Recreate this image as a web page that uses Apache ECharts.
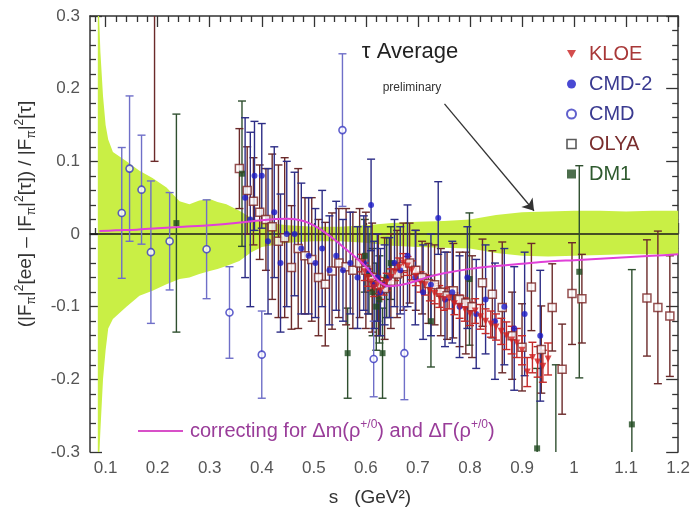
<!DOCTYPE html>
<html>
<head>
<meta charset="utf-8">
<script src="https://cdn.jsdelivr.net/npm/echarts@6/dist/echarts.min.js"></script>
<style>
  html, body { margin: 0; padding: 0; background: #fff; }
  #chart { width: 693px; height: 521px; }
</style>
</head>
<body>
<div id="chart"></div>
<script>
// ---- axis setup ----
const xMin = 0.07, xMax = 1.2;
const yMin = -0.3, yMax = 0.3;
const xTickLabels = [0.1, 0.2, 0.3, 0.4, 0.5, 0.6, 0.7, 0.8, 0.9, 1, 1.1, 1.2];
const yTickLabels = [-0.3, -0.2, -0.1, 0, 0.1, 0.2, 0.3];

// ---- KLOE (value, error) ----
const kloeS = [0.592,0.598,0.604,0.610,0.616,0.622,0.628,0.634,0.640,0.648,0.656,0.664,0.672,0.680,0.688,0.696,0.705,0.714,0.723,0.732,0.741,0.750,0.760,0.770,0.780,0.790,0.800,0.810,0.820,0.830,0.840,0.850,0.860,0.870,0.880,0.890,0.900,0.910,0.920,0.930,0.940,0.950];
const kloeY = [-0.040,-0.052,-0.060,-0.066,-0.074,-0.070,-0.078,-0.072,-0.066,-0.060,-0.052,-0.046,-0.040,-0.044,-0.050,-0.058,-0.066,-0.070,-0.078,-0.082,-0.086,-0.090,-0.088,-0.096,-0.100,-0.104,-0.110,-0.106,-0.114,-0.120,-0.124,-0.128,-0.134,-0.140,-0.146,-0.150,-0.160,-0.190,-0.170,-0.176,-0.182,-0.172];
const kloeErr = [0.012,0.012,0.012,0.012,0.012,0.012,0.012,0.012,0.012,0.012,0.012,0.013,0.013,0.013,0.013,0.013,0.014,0.014,0.014,0.014,0.015,0.015,0.015,0.015,0.016,0.016,0.016,0.017,0.017,0.017,0.018,0.018,0.018,0.019,0.019,0.020,0.020,0.020,0.021,0.021,0.022,0.022];

// ---- CMD-2 ----
const cmd2S = [0.368,0.378,0.386,0.400,0.412,0.424,0.436,0.448,0.463,0.476,0.490,0.503,0.516,0.530,0.543,0.556,0.570,0.584,0.596,0.604,0.610,0.616,0.622,0.628,0.636,0.645,0.655,0.666,0.680,0.695,0.710,0.725,0.739,0.752,0.766,0.780,0.795,0.812,0.830,0.848,0.866,0.885,0.905,0.935];
const cmd2Y = [0.050,0.020,0.080,0.080,-0.010,0.030,-0.040,0.000,0.000,-0.020,-0.030,-0.040,-0.020,-0.050,-0.030,-0.050,-0.040,-0.060,-0.040,-0.050,0.040,-0.070,-0.060,-0.080,-0.070,-0.060,-0.040,-0.050,-0.030,-0.060,-0.080,-0.070,0.022,-0.090,-0.080,-0.100,-0.060,-0.110,-0.090,-0.120,-0.100,-0.130,-0.110,-0.140];
const cmd2Err = [0.11,0.12,0.075,0.072,0.10,0.09,0.095,0.10,0.085,0.09,0.08,0.075,0.08,0.075,0.075,0.07,0.07,0.07,0.065,0.06,0.063,0.06,0.06,0.06,0.055,0.055,0.06,0.06,0.07,0.065,0.065,0.07,0.05,0.065,0.07,0.07,0.07,0.075,0.075,0.08,0.08,0.085,0.085,0.09];

// ---- CMD ----
const cmdS = [0.131,0.146,0.169,0.187,0.223,0.294,0.338,0.400,0.555,0.615,0.674];
const cmdY = [0.029,0.090,0.061,-0.025,-0.010,-0.021,-0.108,-0.166,0.143,-0.172,-0.164];
const cmdErr = [0.090,0.100,0.075,0.098,0.067,0.068,0.063,0.060,0.105,0.052,0.064];

// ---- OLYA ----
const olyaS = [0.194,0.357,0.372,0.384,0.396,0.408,0.420,0.432,0.444,0.457,0.470,0.483,0.496,0.509,0.522,0.535,0.548,0.562,0.575,0.588,0.600,0.612,0.624,0.636,0.648,0.660,0.672,0.684,0.696,0.708,0.720,0.732,0.744,0.756,0.768,0.780,0.792,0.804,0.824,0.843,0.862,0.881,0.900,0.918,0.937,0.958,0.977,0.996,1.015,1.140,1.161,1.184];
const olyaY = [0.40,0.090,0.060,0.045,0.030,0.020,0.010,-0.010,-0.005,-0.046,-0.020,-0.030,-0.035,-0.060,-0.069,-0.051,-0.040,-0.045,-0.050,-0.040,-0.050,-0.060,-0.070,-0.075,-0.065,-0.055,-0.045,-0.040,-0.050,-0.060,-0.068,-0.070,-0.080,-0.085,-0.078,-0.090,-0.095,-0.100,-0.067,-0.083,-0.101,-0.140,-0.156,-0.073,-0.159,-0.101,-0.186,-0.082,-0.089,-0.088,-0.101,-0.113];
const olyaErr = [0.30,0.055,0.06,0.06,0.065,0.07,0.10,0.105,0.11,0.085,0.11,0.08,0.085,0.08,0.085,0.08,0.075,0.08,0.08,0.075,0.08,0.075,0.07,0.07,0.065,0.06,0.06,0.055,0.055,0.05,0.055,0.055,0.06,0.06,0.065,0.065,0.07,0.07,0.06,0.06,0.09,0.06,0.06,0.06,0.06,0.06,0.062,0.07,0.061,0.08,0.105,0.083];

// ---- DM1 ----
const dm1S = [0.236,0.362,0.565,0.598,0.606,0.613,0.620,0.626,0.632,0.640,0.648,0.725,0.799,0.929,0.965,1.010,1.111];
const dm1Y = [0.015,0.083,-0.164,-0.030,-0.055,-0.080,-0.100,-0.090,-0.164,-0.060,-0.040,-0.120,-0.062,-0.295,-0.310,-0.052,-0.262];
const dm1Err = [0.150,0.100,0.062,0.050,0.055,0.060,0.060,0.060,0.062,0.055,0.050,0.063,0.091,0.110,0.130,0.146,0.213];

// ---- tau average error band ----
const bandS = [0.085,0.09,0.095,0.1,0.105,0.114,0.14,0.165,0.19,0.217,0.242,0.261,0.28,0.3,0.315,0.332,0.357,0.38,0.4,0.45,0.5,0.55,0.6,0.65,0.7,0.75,0.8,0.85,0.9,0.95,1.0,1.05,1.1,1.15,1.2];
const bandUpper = [0.35,0.25,0.19,0.15,0.13,0.113,0.10,0.087,0.077,0.064,0.045,0.041,0.046,0.048,0.044,0.041,0.032,0.022,0.016,0.012,0.010,0.010,0.012,0.015,0.017,0.018,0.020,0.026,0.030,0.031,0.032,0.032,0.031,0.032,0.032];
const bandLower = [-0.35,-0.27,-0.20,-0.16,-0.13,-0.117,-0.10,-0.085,-0.078,-0.069,-0.062,-0.060,-0.055,-0.051,-0.048,-0.044,-0.037,-0.025,-0.018,-0.012,-0.010,-0.010,-0.012,-0.016,-0.018,-0.019,-0.020,-0.026,-0.030,-0.031,-0.030,-0.029,-0.028,-0.028,-0.028];

// ---- rho mass/width correction curve ----
const corrS = [0.088,0.12,0.16,0.2,0.25,0.3,0.35,0.4,0.45,0.48,0.5,0.52,0.54,0.56,0.58,0.6,0.615,0.63,0.645,0.66,0.68,0.7,0.72,0.75,0.8,0.85,0.9,0.95,1.0,1.05,1.1,1.15,1.2];
const corrY = [0.004,0.005,0.006,0.008,0.010,0.012,0.015,0.019,0.021,0.018,0.012,0.003,-0.008,-0.020,-0.032,-0.045,-0.058,-0.068,-0.072,-0.071,-0.068,-0.064,-0.059,-0.054,-0.048,-0.044,-0.041,-0.038,-0.036,-0.034,-0.032,-0.030,-0.028];

// ---- annotation arrow (data units) ----
const arrowFrom = [0.751, 0.179];
const arrowTo = [0.923, 0.032];

const FONT = 'Liberation Sans, Arial, Helvetica, sans-serif';
const CORR_NAME = 'correcting for Δm(ρ+/0) and ΔΓ(ρ+/0)';

function triples(s, y, e) { return s.map((v, i) => [v, y[i], e[i]]); }
function pairs(s, y) { return s.map((v, i) => [v, y[i]]); }

// minor tick positions every 0.02, skipping the major ones
const xMinorTicks = [];
for (let k = 4; k <= 60; k++) {
  if (k % 5 !== 0) xMinorTicks.push(+(k * 0.02).toFixed(2));
}

function errorBars(color, cap) {
  return function (params, api) {
    const x = api.value(0), y = api.value(1), e = api.value(2);
    const top = api.coord([x, y + e]);
    const bot = api.coord([x, y - e]);
    const hw = cap / 2;
    const style = { stroke: color, lineWidth: 1.4 };
    return {
      type: 'group',
      children: [
        { type: 'line', shape: { x1: top[0], y1: top[1], x2: bot[0], y2: bot[1] }, style },
        { type: 'line', shape: { x1: top[0] - hw, y1: top[1], x2: top[0] + hw, y2: top[1] }, style },
        { type: 'line', shape: { x1: bot[0] - hw, y1: bot[1], x2: bot[0] + hw, y2: bot[1] }, style }
      ]
    };
  };
}

function errSeries(name, s, y, e, color) {
  return {
    type: 'custom', name: name + ' err', clip: true, z: 3, silent: true,
    renderItem: errorBars(color, 8),
    encode: { x: 0, y: 1 },
    data: triples(s, y, e)
  };
}

const chart = echarts.init(document.getElementById('chart'), null, { renderer: 'canvas' });

const axisLine = { show: true, lineStyle: { color: '#333', width: 1.5 } };
const tickStyle = { color: '#333', width: 1.3 };

const option = {
  animation: false,
  backgroundColor: '#fff',
  grid: { left: 90, right: 14, top: 16, bottom: 69, containLabel: false },
  xAxis: [
    { type: 'value', min: xMin, max: xMax, position: 'bottom', axisLine,
      splitLine: { show: false },
      axisTick: { show: true, inside: true, length: 11, lineStyle: tickStyle, customValues: xTickLabels },
      axisLabel: { show: true, customValues: xTickLabels, margin: 8, fontSize: 17, color: '#555', fontFamily: FONT,
                   formatter: v => String(v) } },
    { type: 'value', min: xMin, max: xMax, position: 'bottom', axisLine: { show: false },
      splitLine: { show: false },
      axisTick: { show: true, inside: true, length: 6, lineStyle: tickStyle, customValues: xMinorTicks },
      axisLabel: { show: false } },
    { type: 'value', min: xMin, max: xMax, position: 'top', axisLine,
      splitLine: { show: false },
      axisTick: { show: true, inside: true, length: 11, lineStyle: tickStyle, customValues: xTickLabels },
      axisLabel: { show: false } },
    { type: 'value', min: xMin, max: xMax, position: 'top', axisLine: { show: false },
      splitLine: { show: false },
      axisTick: { show: true, inside: true, length: 6, lineStyle: tickStyle, customValues: xMinorTicks },
      axisLabel: { show: false } }
  ],
  yAxis: [
    { type: 'value', min: yMin, max: yMax, interval: 0.1, position: 'left', axisLine,
      splitLine: { show: false },
      axisTick: { show: true, inside: true, length: 12, lineStyle: tickStyle },
      minorTick: { show: true, splitNumber: 5, length: 6, lineStyle: tickStyle },
      axisLabel: { show: true, margin: 10, fontSize: 17, color: '#555', fontFamily: FONT,
                   formatter: v => String(Math.round(v * 10) / 10) } },
    { type: 'value', min: yMin, max: yMax, interval: 0.1, position: 'right', axisLine,
      splitLine: { show: false },
      axisTick: { show: true, inside: true, length: 12, lineStyle: tickStyle },
      minorTick: { show: true, splitNumber: 5, length: 6, lineStyle: tickStyle },
      axisLabel: { show: false } }
  ],
  legend: [
    {
      orient: 'vertical', left: 561, top: 39, itemWidth: 9, itemHeight: 9, itemGap: 10,
      textStyle: { fontSize: 20, fontFamily: FONT, padding: [0, 0, 0, 8], lineHeight: 20 },
      selectedMode: false,
      data: [
        { name: 'KLOE', icon: 'path://M0,0 L10,0 L5,9 Z', itemStyle: { color: '#c82020' },
          textStyle: { color: '#a83838' } },
        { name: 'CMD-2', icon: 'circle', textStyle: { color: '#3a3a90' } },
        { name: 'CMD', icon: 'circle', itemStyle: { color: '#fff', borderColor: '#3838c0', borderWidth: 2 },
          textStyle: { color: '#3a3a90' } },
        { name: 'OLYA', icon: 'rect', itemStyle: { color: '#fff', borderColor: '#333', borderWidth: 1.6 },
          textStyle: { color: '#7a2e2e' } },
        { name: 'DM1', icon: 'rect', textStyle: { color: '#2e5a2e' } }
      ]
    },
    {
      orient: 'horizontal', left: 133, top: 414, itemWidth: 45, itemHeight: 2,
      selectedMode: false,
      data: [{ name: CORR_NAME, icon: 'rect', itemStyle: { color: '#d850c8' } }],
      formatter: () => '{a|correcting for Δm(ρ}{s|+/0}{a|) and ΔΓ(ρ}{s|+/0}{a|)}',
      textStyle: {
        padding: [0, 0, 0, 2],
        rich: {
          a: { fontSize: 20, fontFamily: FONT, color: '#993c99', lineHeight: 24 },
          s: { fontSize: 12, fontFamily: FONT, color: '#993c99', verticalAlign: 'top', lineHeight: 14 }
        }
      }
    }
  ],
  graphic: [
    { type: 'text', x: 26, y: 214, rotation: Math.PI / 2,
      style: {
        text: '{n|(|F}{b|π}{n||}{t|2}{n|[ee] – |F}{b|π}{n||}{t|2}{n|[τ]) / |F}{b|π}{n||}{t|2}{n|[τ]}',
        align: 'center', verticalAlign: 'middle',
        rich: {
          n: { fontSize: 19, fontFamily: FONT, fill: '#333', lineHeight: 24 },
          b: { fontSize: 12, fontFamily: FONT, fill: '#333', verticalAlign: 'bottom', lineHeight: 15 },
          t: { fontSize: 12, fontFamily: FONT, fill: '#333', verticalAlign: 'top', lineHeight: 15 }
        }
      } },
    { type: 'text', x: 370, y: 498,
      style: { text: 's   (GeV²)', fontSize: 19, fontFamily: FONT, fill: '#333', align: 'center', verticalAlign: 'middle' } },
    { type: 'text', x: 410, y: 52,
      style: { text: 'τ Average', fontSize: 22, fontFamily: FONT, fill: '#222', align: 'center', verticalAlign: 'middle' } },
    { type: 'text', x: 412, y: 88,
      style: { text: 'preliminary', fontSize: 12, fontFamily: FONT, fill: '#333', align: 'center', verticalAlign: 'middle' } }
  ],
  series: [
    {
      type: 'custom', name: 'tau band', clip: true, z: 1, silent: true,
      data: [[bandS[0], 0]],
      encode: { x: 0, y: 1 },
      renderItem: function (params, api) {
        const pts = [];
        for (let i = 0; i < bandS.length; i++) pts.push(api.coord([bandS[i], bandUpper[i]]));
        for (let i = bandS.length - 1; i >= 0; i--) pts.push(api.coord([bandS[i], bandLower[i]]));
        return { type: 'polygon', shape: { points: pts }, style: { fill: '#c9ef45', stroke: 'none' } };
      }
    },
    {
      type: 'line', name: 'zero', z: 2, silent: true, symbol: 'none',
      data: [[xMin, 0], [xMax, 0]],
      lineStyle: { color: '#1a1a1a', width: 1.6 }
    },
    errSeries('DM1', dm1S, dm1Y, dm1Err, '#2f4f2f'),
    errSeries('OLYA', olyaS, olyaY, olyaErr, '#6b2a2a'),
    errSeries('CMD', cmdS, cmdY, cmdErr, '#6f6fc8'),
    errSeries('CMD-2', cmd2S, cmd2Y, cmd2Err, '#2d2d86'),
    errSeries('KLOE', kloeS, kloeY, kloeErr, '#c42a2a'),
    {
      type: 'scatter', name: 'OLYA', z: 4, symbol: 'rect', symbolSize: 8,
      itemStyle: { color: '#fff', borderColor: '#7a2424', borderWidth: 1.5 },
      data: pairs(olyaS, olyaY)
    },
    {
      type: 'scatter', name: 'DM1', z: 4, symbol: 'rect', symbolSize: 6,
      itemStyle: { color: '#1f4a1f' },
      data: pairs(dm1S, dm1Y)
    },
    {
      type: 'scatter', name: 'CMD', z: 4, symbol: 'circle', symbolSize: 7,
      itemStyle: { color: '#fff', borderColor: '#3838c0', borderWidth: 1.6 },
      data: pairs(cmdS, cmdY)
    },
    {
      type: 'scatter', name: 'CMD-2', z: 4, symbol: 'circle', symbolSize: 6,
      itemStyle: { color: '#1c1cc8' },
      data: pairs(cmd2S, cmd2Y)
    },
    {
      type: 'scatter', name: 'KLOE', z: 4, symbol: 'triangle', symbolRotate: 180, symbolSize: 7,
      itemStyle: { color: '#d02020' },
      data: pairs(kloeS, kloeY)
    },
    {
      type: 'line', name: CORR_NAME, z: 5, symbol: 'none', smooth: 0.3, silent: true,
      lineStyle: { color: '#e040d8', width: 2 },
      itemStyle: { color: '#e040d8' },
      data: pairs(corrS, corrY),
      markLine: {
        silent: true, symbol: ['none', 'arrow'], symbolSize: 11,
        label: { show: false },
        lineStyle: { color: '#333', width: 1.3, type: 'solid' },
        data: [[{ coord: arrowFrom }, { coord: arrowTo }]]
      }
    }
  ]
};

chart.setOption(option);
</script>
</body>
</html>
